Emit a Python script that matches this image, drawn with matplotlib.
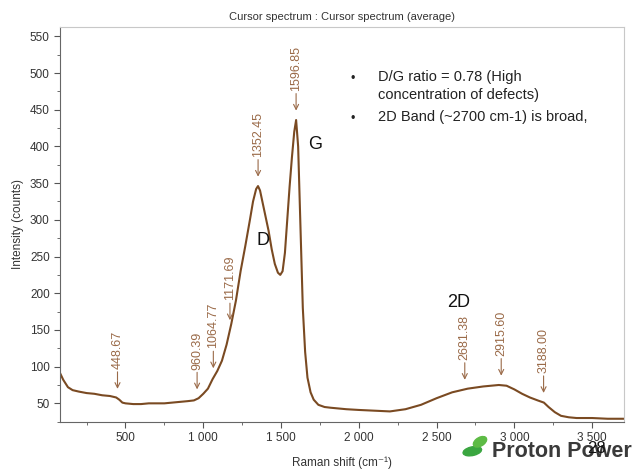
import numpy as np
import matplotlib
matplotlib.use("Agg")
import matplotlib.pyplot as plt
from matplotlib.patches import Ellipse
from matplotlib.ticker import MultipleLocator

plt.rcParams['font.family'] = ['Liberation Sans Narrow', 'Liberation Sans', 'DejaVu Sans']

# Espectro Raman (cm-1, cuentas)
raman_shift = [82, 100, 130, 160, 200, 250, 300, 350, 400, 440, 460, 480, 500, 550,
               600, 650, 700, 750, 800, 850, 900, 940, 970, 1000, 1030, 1060, 1090,
               1120, 1150, 1180, 1210, 1240, 1270, 1300, 1320, 1340, 1352, 1365, 1380,
               1400, 1420, 1440, 1460, 1480, 1495, 1510, 1525, 1540, 1555, 1570, 1585,
               1597, 1610, 1625, 1640, 1655, 1670, 1690, 1710, 1740, 1780, 1820, 1870,
               1920, 2000, 2100, 2200, 2300, 2400, 2500, 2600, 2700, 2800, 2900, 2950,
               3000, 3050, 3100, 3150, 3190, 3220, 3260, 3300, 3350, 3400, 3500, 3600, 3705]
intensity = [90, 82, 72, 68, 66, 64, 63, 61, 60, 58, 55, 51, 50, 49,
             49, 50, 50, 50, 51, 52, 53, 54, 57, 63, 70, 83, 94,
             108, 130, 158, 190, 230, 264, 300, 325, 342, 346, 340, 325,
             305, 285, 260, 240, 228, 225, 230, 255, 300, 345, 385, 420,
             436, 400, 290, 180, 120, 85, 65, 55, 48, 45, 44, 43,
             42, 41, 40, 39, 42, 48, 57, 65, 70, 73, 75, 74,
             69, 63, 58, 54, 51, 45, 38, 33, 31, 30, 30, 29, 29]

# Picos marcados
peak_pos = [448.67, 960.39, 1064.77, 1171.69, 1352.45, 1596.85, 2681.38, 2915.60, 3188.00]

# Etiquetas de bandas
band_names = ['D', 'G', '2D']
band_x = [1385, 1720, 2640]
band_y = [272, 402, 188]

xticks = [500, 1000, 1500, 2000, 2500, 3000, 3500]
xtick_labels = ['500', '1 000', '1 500', '2 000', '2 500', '3 000', '3 500']
yticks = [50, 100, 150, 200, 250, 300, 350, 400, 450, 500, 550]

notes = ["D/G ratio = 0.78 (High\nconcentration of defects)",
         "2D Band (~2700 cm-1) is broad,"]

line_color = '#7a4a22'
label_color = '#9a6a48'
sans = ['Liberation Sans', 'DejaVu Sans']

fig = plt.figure(figsize=(6.4, 4.7), dpi=100)
ax = fig.add_axes([0.094, 0.102, 0.881, 0.841])

ax.plot(raman_shift, intensity, color=line_color, lw=1.5)

# Flechas con la posición de cada pico
for p in peak_pos:
    yv = np.interp(p, raman_shift, intensity)
    ax.annotate('%.2f' % p, xy=(p, yv + 13), xytext=(p, yv + 40),
                rotation=90, ha='center', va='bottom', fontsize=9, color=label_color,
                family=sans,
                arrowprops=dict(arrowstyle='->', color=label_color, lw=0.8,
                                shrinkA=0, shrinkB=0))

for name, bx, by in zip(band_names, band_x, band_y):
    ax.text(bx, by, name, fontsize=13, color='#111111', ha='center', va='center',
            family=sans)

# Notas con viñetas
fig.text(0.547, 0.845, u'\u2022', fontsize=9, color='#222222', va='top')
fig.text(0.590, 0.850, notes[0], fontsize=10.5, color='#222222', va='top',
         family=sans, linespacing=1.3)
fig.text(0.547, 0.759, u'\u2022', fontsize=9, color='#222222', va='top')
fig.text(0.590, 0.765, notes[1], fontsize=10.5, color='#222222', va='top',
         family=sans)

ax.set_xlim(80, 3705)
ax.set_ylim(24.5, 563)
ax.set_xticks(xticks)
ax.set_xticklabels(xtick_labels)
ax.set_yticks(yticks)
ax.xaxis.set_minor_locator(MultipleLocator(250))
ax.yaxis.set_minor_locator(MultipleLocator(25))
ax.tick_params(which='both', direction='out', colors='#555555', labelcolor='#333333',
               labelsize=8.5)
ax.tick_params(which='major', length=4)
ax.tick_params(which='minor', length=2.5)
for s in ['top', 'right']:
    ax.spines[s].set_color('#c8c8c8')
for s in ['left', 'bottom']:
    ax.spines[s].set_color('#666666')

ax.set_title('Cursor spectrum : Cursor spectrum (average)', fontsize=8, color='#333333', pad=5)
ax.set_xlabel('Raman shift (cm\u207b\u00b9)', fontsize=8.5, color='#333333', labelpad=9)
ax.set_ylabel('Intensity (counts)', fontsize=8.5, color='#333333', labelpad=4)

# Logo
fig.text(0.768, 0.028, 'Proton Power', fontsize=15.5, fontweight='bold', color='#3a3a3a',
         family=sans)
fig.text(0.918, 0.036, '28', fontsize=12, color='#111111')
fig.patches.append(Ellipse((0.738, 0.040), 0.030, 0.018, angle=20, color='#3aa640',
                           transform=fig.transFigure, figure=fig))
fig.patches.append(Ellipse((0.750, 0.060), 0.026, 0.016, angle=50, color='#5dbb45',
                           transform=fig.transFigure, figure=fig))

fig.savefig('out.png', dpi=100)
